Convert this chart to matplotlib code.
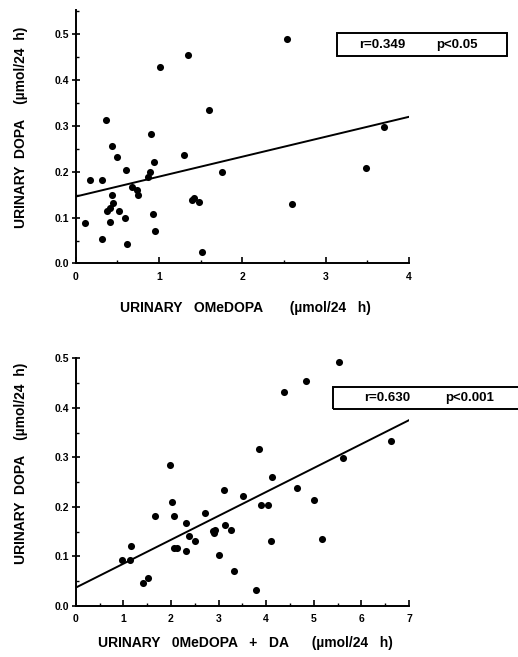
import matplotlib.pyplot as plt
from matplotlib.ticker import MultipleLocator

plt.rcParams['font.family'] = ['Liberation Sans', 'DejaVu Sans']
plt.rcParams['font.weight'] = 'bold'

# Panel A: urinary OMeDOPA vs urinary DOPA
omedopa = [0.11, 0.17, 0.32, 0.36, 0.32, 0.44, 0.49, 0.43, 0.45, 0.41, 0.38, 0.52,
           0.41, 0.59, 0.62, 0.60, 0.67, 0.74, 0.75, 0.90, 0.94, 0.89, 0.87, 0.93,
           0.95, 1.01, 1.35, 1.30, 1.39, 1.42, 1.48, 1.52, 1.60, 1.75, 2.53, 2.60,
           3.70, 3.48]
dopa_a = [0.089, 0.182, 0.182, 0.314, 0.053, 0.257, 0.233, 0.150, 0.132, 0.122, 0.115, 0.115,
          0.090, 0.099, 0.043, 0.205, 0.166, 0.160, 0.149, 0.283, 0.221, 0.200, 0.189, 0.109,
          0.070, 0.428, 0.455, 0.237, 0.138, 0.143, 0.135, 0.026, 0.334, 0.199, 0.490, 0.130,
          0.297, 0.208]
fit_a = (0.146, 0.0435)   # intercept, slope
stats_a = ("r=0.349", "p<0.05")

# Panel B: urinary OMeDOPA + DA vs urinary DOPA
omedopa_da = [0.98, 1.14, 1.16, 1.41, 1.51, 1.66, 1.98, 2.03, 2.06, 2.07, 2.13, 2.32,
              2.38, 2.31, 2.51, 2.72, 2.89, 2.93, 2.91, 3.02, 3.12, 3.14, 3.27, 3.32,
              3.51, 3.79, 3.86, 3.89, 4.03, 4.11, 4.12, 4.38, 4.65, 4.84, 5.01, 5.17,
              5.53, 5.61, 6.62]
dopa_b = [0.093, 0.093, 0.122, 0.046, 0.057, 0.182, 0.285, 0.209, 0.182, 0.117, 0.117, 0.168,
          0.142, 0.112, 0.132, 0.187, 0.152, 0.153, 0.148, 0.103, 0.234, 0.163, 0.153, 0.071,
          0.223, 0.032, 0.316, 0.204, 0.204, 0.131, 0.260, 0.432, 0.238, 0.455, 0.213, 0.136,
          0.492, 0.298, 0.334]
fit_b = (0.037, 0.0483)
stats_b = ("r=0.630", "p<0.001")

W, H = 518, 657
fig = plt.figure(figsize=(W / 100, H / 100), dpi=100)


def px_rect(left, top, right, bottom):
    return [left / W, 1 - bottom / H, (right - left) / W, (bottom - top) / H]


def panel(rect, x, y, fit, xmax, ymax, xticks, xlabel, ylabel, ylabel_y, xlabel_y):
    ax = fig.add_axes(px_rect(*rect))
    ax.scatter(x, y, s=26, color='black', zorder=3, linewidths=0)
    b0, b1 = fit
    ax.plot([0, xmax], [b0, b0 + b1 * xmax], color='black', lw=1.4)
    ax.set_xlim(0, xmax)
    ax.set_ylim(0, ymax)
    for s in ('top', 'right'):
        ax.spines[s].set_visible(False)
    for s in ('left', 'bottom'):
        ax.spines[s].set_linewidth(1.4)
    ax.set_xticks(xticks)
    ax.set_yticks([0.0, 0.1, 0.2, 0.3, 0.4, 0.5])
    ax.set_yticklabels(['0.0', '0.1', '0.2', '0.3', '0.4', '0.5'])
    ax.xaxis.set_minor_locator(MultipleLocator(0.5))
    ax.yaxis.set_minor_locator(MultipleLocator(0.05))
    ax.tick_params(axis='x', which='major', direction='in', length=4, width=1.2,
                   labelsize=7.5, pad=6)
    ax.tick_params(axis='x', which='minor', direction='in', length=2, width=1)
    ax.tick_params(axis='y', which='major', direction='inout', length=6, width=1.2,
                   labelsize=7.5, pad=2)
    ax.tick_params(axis='y', which='minor', direction='in', length=2, width=1)
    cx = (rect[0] + rect[2]) / 2 + 3
    fig.text(cx / W, 1 - xlabel_y / H, xlabel, ha='center', va='center',
             fontsize=10, fontweight='bold')
    fig.text(21 / W, 1 - ylabel_y / H, ylabel, ha='center', va='center',
             rotation=90, fontsize=10, fontweight='bold')
    return ax


def stat_box(left, top, right, bottom, stats, x1, x2):
    fig.patches.append(plt.Rectangle((left / W, 1 - bottom / H), (right - left) / W,
                                     (bottom - top) / H, transform=fig.transFigure,
                                     fill=False, edgecolor='black', lw=1.4))
    yc = 1 - (top + bottom) / 2 / H
    fig.text(x1 / W, yc, stats[0], ha='center', va='center', fontsize=9.5, fontweight='bold')
    fig.text(x2 / W, yc, stats[1], ha='center', va='center', fontsize=9.5, fontweight='bold')


panel((75.7, 10, 409, 263.5), omedopa, dopa_a, fit_a, 4, 0.553, range(0, 5),
      'URINARY   OMeDOPA       (\u00b5mol/24   h)', 'URINARY  DOPA    (\u00b5mol/24  h)', 127, 308)
stat_box(336.7, 33.3, 507.3, 56, stats_a, 382, 457)

panel((75.7, 358.3, 409, 606), omedopa_da, dopa_b, fit_b, 7, 0.5, range(0, 8),
      'URINARY   0MeDOPA   +   DA      (\u00b5mol/24   h)', 'URINARY  DOPA    (\u00b5mol/24  h)', 463, 643)
stat_box(333.3, 387.3, 530, 409, stats_b, 387, 470)

fig.savefig('out.png', dpi=100)
